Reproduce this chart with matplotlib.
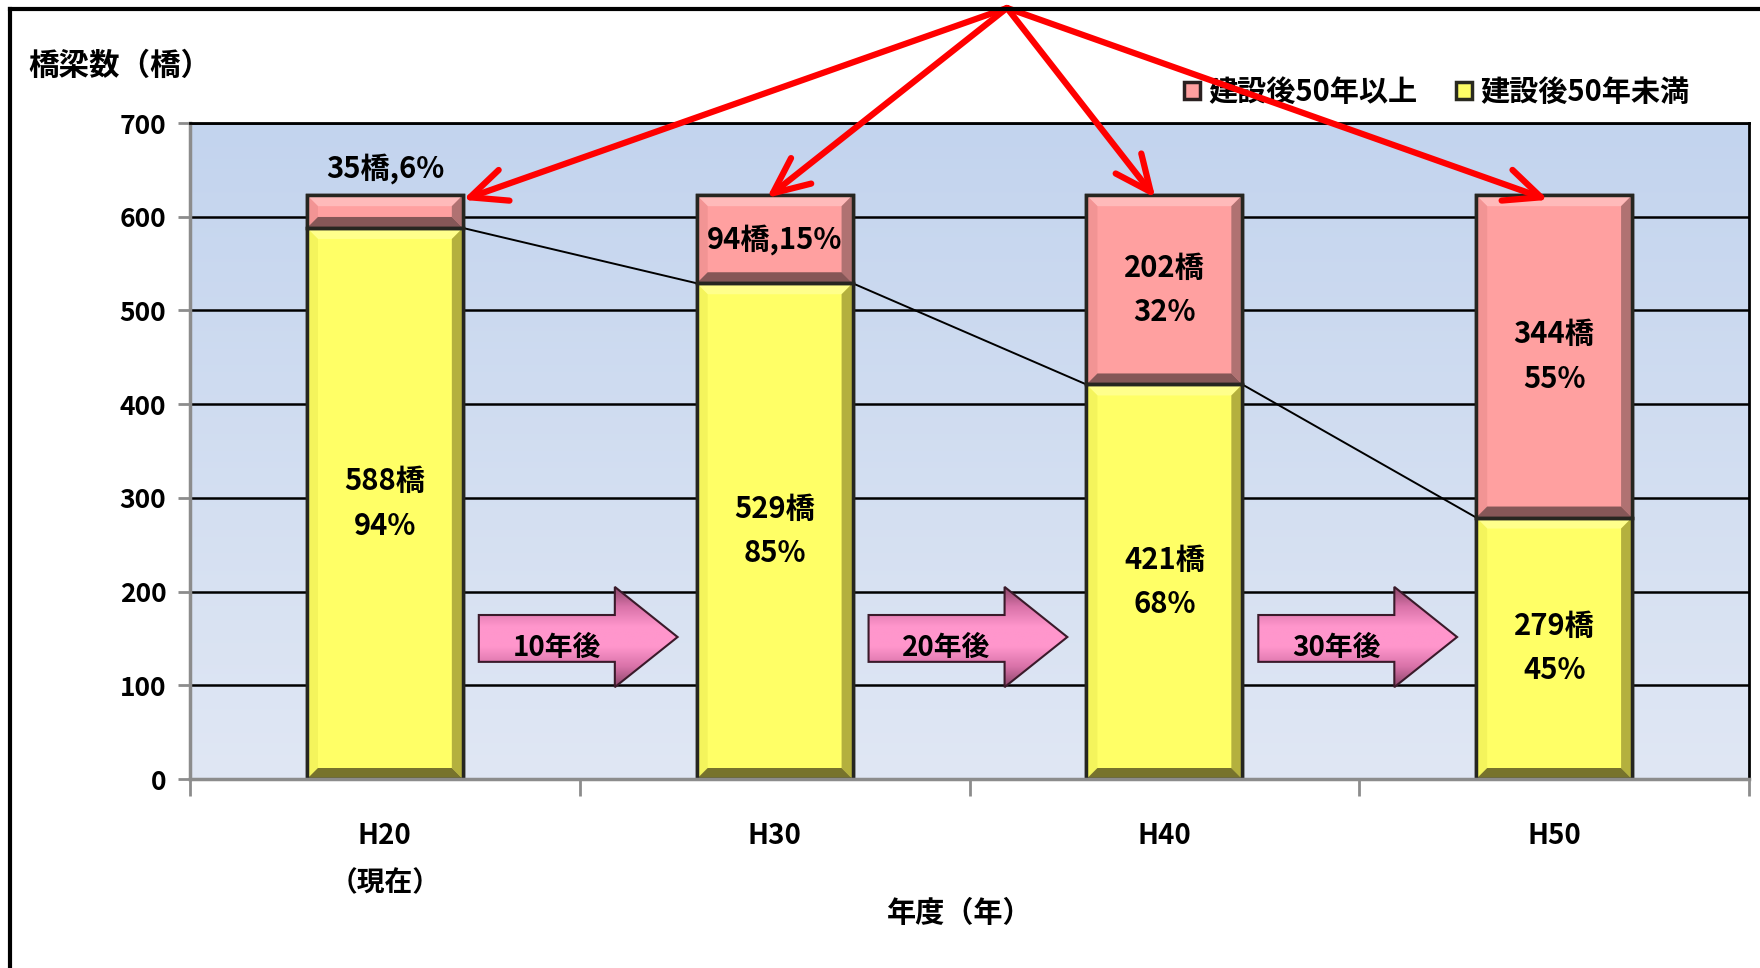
import numpy as np
import matplotlib
matplotlib.use("Agg")
import matplotlib.pyplot as plt
from matplotlib.colors import LinearSegmentedColormap
from matplotlib.patches import Polygon
from matplotlib.lines import Line2D

plt.rcParams['font.family'] = ['Noto Sans CJK JP', 'DejaVu Sans']
plt.rcParams['font.weight'] = 'bold'

# Bridge counts per fiscal year
years = ["H20\n（現在）", "H30", "H40", "H50"]
under_50 = [588, 529, 421, 279]      # 建設後50年未満
over_50 = [35, 94, 202, 344]         # 建設後50年以上
under_pct = [94, 85, 68, 45]
over_pct = [6, 15, 32, 55]
step_labels = ["10年後", "20年後", "30年後"]

YELLOW = "#ffff66"
PINK = "#ffa0a0"

fig = plt.figure(figsize=(17.6, 9.68), dpi=100)
ax = fig.add_axes([190 / 1760, 1 - 779 / 968, 1559 / 1760, 656 / 968])

x = np.arange(len(years))

# soft blue gradient behind the bars
bg = LinearSegmentedColormap.from_list("bg", ["#e0e7f4", "#c3d4ee"])
ax.imshow(np.linspace(0, 1, 256).reshape(-1, 1), extent=(-0.5, 3.5, 0, 700),
          origin='lower', aspect='auto', cmap=bg, zorder=0)
ax.set_xlim(-0.5, 3.5)
ax.set_ylim(0, 700)

ax.set_yticks(range(0, 701, 100))
ax.yaxis.grid(True, color='black', linewidth=1.8, zorder=0.5)
ax.set_axisbelow(True)

width = 0.4
b_low = ax.bar(x, under_50, width, color=YELLOW, edgecolor='#2a2a20', linewidth=2.5,
               zorder=2, label='建設後50年未満')
b_high = ax.bar(x, over_50, width, bottom=under_50, color=PINK, edgecolor='#2a2020',
                linewidth=2.5, zorder=2, label='建設後50年以上')

# bevelled edges on each segment
px_x = 1 / 390.0
px_y = 700 / 656.0
bw = 11
dx, dy = bw * px_x, bw * px_y
shades = {
    YELLOW: ("#ffff8c", "#f4f45c", "#b4b03e", "#77732c"),
    PINK: ("#ffbaba", "#f29494", "#b07272", "#855757"),
}
for bars, base in ((b_low, YELLOW), (b_high, PINK)):
    top_c, left_c, right_c, bot_c = shades[base]
    for r in bars:
        x0, x1 = r.get_x(), r.get_x() + r.get_width()
        y0, y1 = r.get_y(), r.get_y() + r.get_height()
        d = min(dy, (y1 - y0) / 2.2)
        polys = [
            ([(x0, y1), (x1, y1), (x1 - dx, y1 - d), (x0 + dx, y1 - d)], top_c),
            ([(x0, y0), (x0 + dx, y0 + d), (x0 + dx, y1 - d), (x0, y1)], left_c),
            ([(x1, y0), (x1 - dx, y0 + d), (x1 - dx, y1 - d), (x1, y1)], right_c),
            ([(x0, y0), (x1, y0), (x1 - dx, y0 + d), (x0 + dx, y0 + d)], bot_c),
        ]
        for pts, c in polys:
            ax.add_patch(Polygon(pts, closed=True, facecolor=c, edgecolor='none', zorder=2.1))
        ax.add_patch(plt.Rectangle((x0, y0), x1 - x0, y1 - y0, fill=False,
                                   edgecolor='#262620', linewidth=2.5, zorder=2.2))

# series lines joining the tops of the lower segments
for i in range(len(x) - 1):
    ax.plot([x[i] + width / 2, x[i + 1] - width / 2], [under_50[i], under_50[i + 1]],
            color='black', linewidth=1.4, zorder=1.5)

# value labels
lab_kw = dict(ha='center', va='center', fontsize=21, fontweight='bold', zorder=5,
              linespacing=1.6)
for i in range(len(x)):
    ax.text(x[i], under_50[i] / 2, f"{under_50[i]}橋\n{under_pct[i]}%", **lab_kw)
    mid = under_50[i] + over_50[i] / 2
    if i == 0:
        ax.text(x[i], under_50[i] + over_50[i] + 28, f"{over_50[i]}橋,{over_pct[i]}%", **lab_kw)
    elif i == 1:
        ax.text(x[i], mid, f"{over_50[i]}橋,{over_pct[i]}%", **lab_kw)
    else:
        ax.text(x[i], mid, f"{over_50[i]}橋\n{over_pct[i]}%", **lab_kw)

# pink block arrows between bars
arrow_cmap = LinearSegmentedColormap.from_list(
    "arr", ["#8a4468", "#d872a8", "#ff96cc", "#ff96cc", "#d872a8", "#8a4468"])
for k, txt in enumerate(step_labels):
    xs, xh, xt = 0.241 + k, 0.590 + k, 0.751 + k
    pts = [(xs, 125), (xh, 125), (xh, 98), (xt, 151.5), (xh, 205), (xh, 175), (xs, 175)]
    poly = Polygon(pts, closed=True, facecolor='none', edgecolor='#3a1a2a',
                   linewidth=1.5, zorder=3.1)
    ax.add_patch(poly)
    im = ax.imshow(np.linspace(0, 1, 256).reshape(-1, 1), extent=(xs, xt, 98, 205),
                   origin='lower', aspect='auto', cmap=arrow_cmap, zorder=3)
    im.set_clip_path(poly)
    ax.text(xs + 0.20, 140, txt, ha='center', va='center', fontsize=20,
            fontweight='bold', zorder=5)

ax.set_xlim(-0.5, 3.5)
ax.set_ylim(0, 700)

# red callout arrows from a common point at the top
targets = [(0.2, 618), (0.98, 620), (1.977, 620), (2.985, 618)]
for tx, ty in targets:
    ax.annotate("", xy=(tx, ty), xycoords='data',
                xytext=(1007 / 1760, 1 - 8 / 968), textcoords='figure fraction',
                arrowprops=dict(arrowstyle='->,head_length=1.0,head_width=0.45',
                                color='#ff0000', lw=4.5, mutation_scale=26,
                                shrinkA=0, shrinkB=0),
                annotation_clip=False, zorder=6)

# axes styling
for s in ('top', 'right'):
    ax.spines[s].set_color('black')
    ax.spines[s].set_linewidth(2)
for s in ('left', 'bottom'):
    ax.spines[s].set_color('#8c8c8c')
    ax.spines[s].set_linewidth(2.5)

ax.set_xticks(np.arange(-0.5, 3.6, 1.0))
ax.set_xticklabels([])
ax.set_xticks(x, minor=True)
ax.set_xticklabels(years, minor=True)
ax.tick_params(axis='x', which='major', length=12, width=2, color='#8c8c8c', direction='out')
ax.tick_params(axis='x', which='minor', length=0, pad=31, labelsize=20)
for lbl in ax.get_xticklabels(minor=True):
    lbl.set_linespacing(1.85)
    lbl.set_fontweight('bold')
ax.tick_params(axis='y', length=9, width=2, color='#8c8c8c', direction='out',
               labelsize=19, pad=8)
for lbl in ax.get_yticklabels():
    lbl.set_fontweight('bold')

fig.text(960 / 1760, 1 - 913 / 968, "年度（年）", ha='center', va='center',
         fontsize=21, fontweight='bold')
fig.text(28 / 1760, 1 - 66 / 968, "橋梁数（橋）", ha='left', va='center',
         fontsize=22, fontweight='bold')

ax.legend(handles=[b_high, b_low], loc='center right', ncol=2, frameon=False,
          bbox_to_anchor=(1716 / 1760, 1 - 92 / 968), bbox_transform=fig.transFigure,
          handlelength=0.55, handleheight=0.55, handletextpad=0.3,
          columnspacing=1.3, prop={'weight': 'bold', 'size': 21})

# outer frame of the figure
fig.add_artist(Line2D([10 / 1760, 1.0], [1 - 9 / 968, 1 - 9 / 968], color='black',
                      linewidth=3, transform=fig.transFigure))
fig.add_artist(Line2D([10 / 1760, 10 / 1760], [0, 1 - 9 / 968], color='black',
                      linewidth=3, transform=fig.transFigure))

fig.savefig("out.png", dpi=100)
